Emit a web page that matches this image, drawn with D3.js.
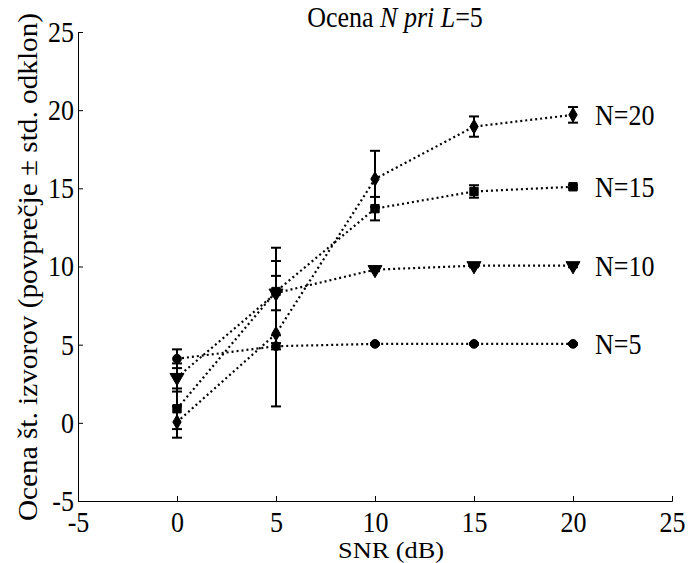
<!DOCTYPE html>
<html>
<head>
<meta charset="utf-8">
<script src="https://cdn.jsdelivr.net/npm/d3@7"></script>
<style>
  body { margin: 0; background: #fff; }
  svg text { font-family: "Liberation Serif", "Times New Roman", serif; fill: #000; }
</style>
</head>
<body>
<svg id="chart" width="693" height="563"></svg>
<script>
// SNR values (dB)
const snr = [0, 5, 10, 15, 20];

// Mean estimated number of sources for each true N
const seriesNames = ["N=5", "N=10", "N=15", "N=20"];
const meanN5  = [4.1, 4.9, 5.05, 5.05, 5.05];
const meanN10 = [2.9, 8.3, 9.8, 10.05, 10.05];
const meanN15 = [0.9, 8.4, 13.7, 14.8, 15.1];
const meanN20 = [0.05, 5.7, 15.6, 18.95, 19.7];

// Standard deviations
const sdN5  = [0.6, 0.2, 0.05, 0.05, 0.05];
const sdN10 = [0.9, 1.1, 0.1, 0.1, 0.1];
const sdN15 = [1.3, 2.8, 0.75, 0.4, 0.1];
const sdN20 = [1.0, 4.65, 1.8, 0.65, 0.5];

const markers = ["circle", "triangle", "square", "diamond"];

const xTicks = [-5, 0, 5, 10, 15, 20, 25];
const yTicks = [-5, 0, 5, 10, 15, 20, 25];

const means = [meanN5, meanN10, meanN15, meanN20];
const sds = [sdN5, sdN10, sdN15, sdN20];

const FONT = "'Liberation Serif', 'Times New Roman', serif";
const FS = "26px";
const TALL = "scale(1,1.1)";   // slightly taller glyphs

const svg = d3.select("#chart");
const x = d3.scaleLinear().domain([-5, 25]).range([78, 672]);
const y = d3.scaleLinear().domain([-5, 25]).range([501, 32]);

// Axes with inward ticks (only left and bottom spines)
const fmt = d => String(d);
const xAxis = d3.axisBottom(x).tickValues(xTicks).tickSize(-5).tickFormat(fmt);
const yAxis = d3.axisLeft(y).tickValues(yTicks).tickSize(-5).tickPadding(4).tickFormat(fmt);

const gx = svg.append("g").attr("transform", `translate(0,${y(-5)})`).call(xAxis);
const gy = svg.append("g").attr("transform", `translate(${x(-5)},0)`).call(yAxis);
[gx, gy].forEach(g => {
  g.attr("font-family", FONT).attr("font-size", FS);
  g.select(".domain").attr("stroke", "#000").attr("stroke-width", 1);
  g.selectAll(".tick line").attr("stroke", "#000");
  g.selectAll(".tick text").attr("fill", "#000")
    .style("font-size", FS).style("font-family", FONT)
    .attr("transform", TALL);
});
gx.selectAll(".tick text").attr("dy", "0.71em").attr("y", 10);
gy.selectAll(".tick text").attr("dy", "0.33em");

// Dotted lines joining the means
const line = d3.line().x((d, i) => x(snr[i])).y(d => y(d));
const plot = svg.append("g");

means.forEach(m => {
  plot.append("path")
    .datum(m)
    .attr("d", line)
    .attr("fill", "none")
    .attr("stroke", "#000")
    .attr("stroke-width", 2.2)
    .attr("stroke-dasharray", "2,3");
});

// Error bars (mean ± std)
means.forEach((m, s) => {
  const g = plot.append("g");
  m.forEach((v, i) => {
    const sd = sds[s][i];
    const cx = x(snr[i]);
    const y1 = y(v + sd), y2 = y(v - sd);
    g.append("line").attr("x1", cx).attr("x2", cx).attr("y1", y1).attr("y2", y2)
      .attr("stroke", "#000").attr("stroke-width", 2);
    [y1, y2].forEach(yy => {
      g.append("line").attr("x1", cx - 5).attr("x2", cx + 5).attr("y1", yy).attr("y2", yy)
        .attr("stroke", "#000").attr("stroke-width", 2);
    });
  });
});

// Markers
const symbolTypes = {
  circle: d3.symbol().type(d3.symbolCircle).size(60),
  square: d3.symbol().type(d3.symbolSquare).size(70),
  diamond: d3.symbol().type(d3.symbolDiamond).size(60),
  triangle: d3.symbol().type(d3.symbolTriangle).size(85)
};

means.forEach((m, s) => {
  const kind = markers[s];
  m.forEach((v, i) => {
    const rot = kind === "triangle" ? " rotate(180)" : "";
    plot.append("path")
      .attr("d", symbolTypes[kind]())
      .attr("transform", `translate(${x(snr[i])},${y(v)})${rot}`)
      .attr("fill", "#000")
      .attr("stroke", "#000")
      .attr("stroke-width", 1);
  });
});

// Series labels at the right end
seriesNames.forEach((name, s) => {
  svg.append("text")
    .attr("transform", `translate(${x(20) + 22},${y(means[s][4])}) ${TALL}`)
    .attr("dy", "0.35em")
    .style("font-size", FS)
    .text(name);
});

// Title with italic parts
const title = svg.append("text")
  .attr("transform", `translate(395,27) ${TALL}`)
  .attr("text-anchor", "middle")
  .style("font-size", FS);
title.append("tspan").text("Ocena ");
title.append("tspan").style("font-style", "italic").text("N pri L");
title.append("tspan").text("=5");

// Axis titles
svg.append("text")
  .attr("x", 391)
  .attr("y", 558)
  .attr("text-anchor", "middle")
  .attr("textLength", 106)
  .attr("lengthAdjust", "spacingAndGlyphs")
  .style("font-size", "24px")
  .text("SNR (dB)");

svg.append("text")
  .attr("transform", `translate(37,267) rotate(-90)`)
  .attr("text-anchor", "middle")
  .attr("textLength", 508)
  .attr("lengthAdjust", "spacingAndGlyphs")
  .style("font-size", "27px")
  .text("Ocena št. izvorov (povprečje ± std. odklon)");
</script>
</body>
</html>
